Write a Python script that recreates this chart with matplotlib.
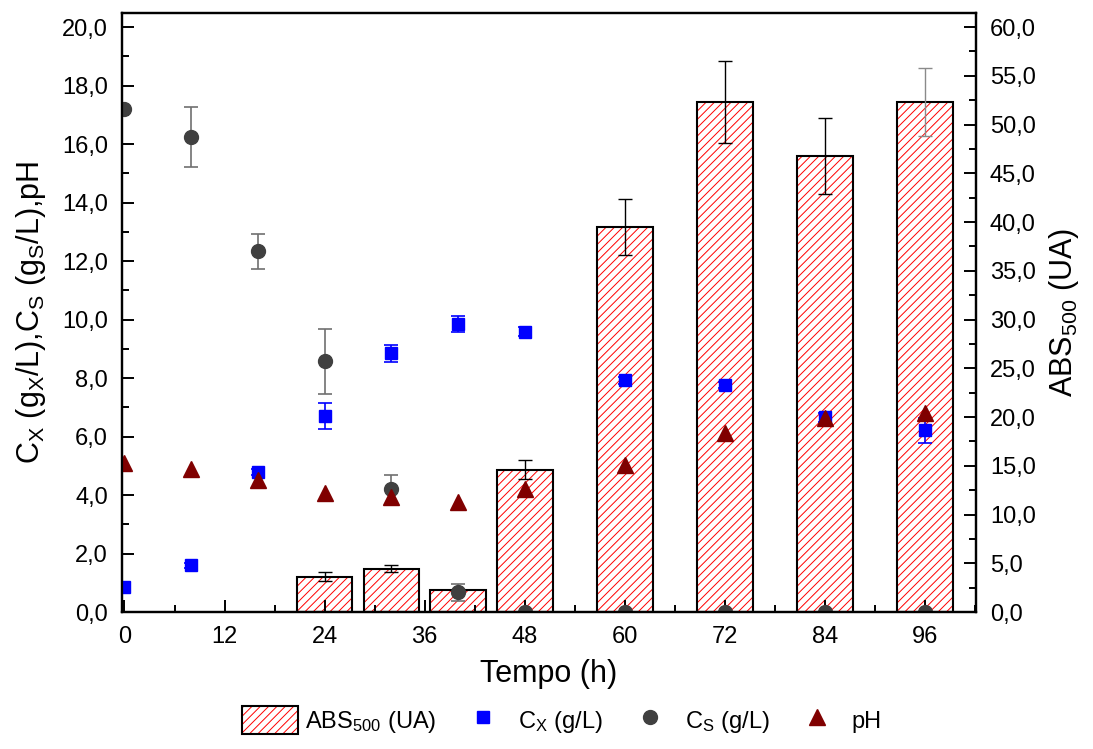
import matplotlib
matplotlib.use("Agg")
import matplotlib.pyplot as plt
from matplotlib.ticker import MultipleLocator, FuncFormatter
from matplotlib.patches import Patch
from matplotlib.lines import Line2D

plt.rcParams['font.family'] = ['Liberation Sans', 'DejaVu Sans']
plt.rcParams['mathtext.default'] = 'regular'
plt.rcParams['hatch.linewidth'] = 0.7

# time points (h)
tempo = [0, 8, 16, 24, 32, 40, 48, 60, 72, 84, 96]
cx = [0.84, 1.60, 4.78, 6.71, 8.84, 9.85, 9.58, 7.92, 7.75, 6.66, 6.22]
cx_err = [0.05, 0.08, 0.10, 0.44, 0.28, 0.28, 0.15, 0.12, 0.10, 0.15, 0.43]
cs = [17.19, 16.25, 12.34, 8.58, 4.20, 0.67, 0.0, 0.0, 0.0, 0.0, 0.0]
cs_err = [0.0, 1.03, 0.60, 1.11, 0.49, 0.28, 0.0, 0.0, 0.0, 0.0, 0.0]
ph = [5.08, 4.88, 4.51, 4.08, 3.94, 3.77, 4.22, 5.03, 6.13, 6.62, 6.79]
ph_err = [0.10, 0.15, 0.15, 0.15, 0.15, 0.15, 0.15, 0.15, 0.15, 0.15, 0.15]

# absorbance bars
tempo_abs = [24, 32, 40, 48, 60, 72, 84, 96]
abs500 = [3.63, 4.45, 2.26, 14.6, 39.5, 52.3, 46.8, 52.3]
abs_err = [0.5, 0.35, 0.0, 1.0, 2.9, 4.2, 3.9, 3.5]

xticks = [0, 12, 24, 36, 48, 60, 72, 84, 96]


def comma(v, pos):
    return f"{v:.1f}".replace('.', ',')


fig = plt.figure(figsize=(10.93, 7.49), dpi=100)
ax = fig.add_axes([0.1116, 0.1829, 0.7814, 0.7997])
ax2 = ax.twinx()

# bars on the right axis
ax2.bar(tempo_abs, abs500, width=6.67, color='white', edgecolor='red',
        hatch='////', linewidth=0, zorder=1)
ax2.bar(tempo_abs, abs500, width=6.67, fill=False, edgecolor='black',
        linewidth=1.5, zorder=2)
ax2.errorbar(tempo_abs[:-1], abs500[:-1], yerr=abs_err[:-1], fmt='none',
             ecolor='black', elinewidth=1.0, capsize=5, capthick=1.0, zorder=3)
ax2.errorbar(tempo_abs[-1:], abs500[-1:], yerr=abs_err[-1:], fmt='none',
             ecolor='#8a8a8a', elinewidth=1.0, capsize=5, capthick=1.0, zorder=3)

ax.set_zorder(ax2.get_zorder() + 1)
ax.patch.set_visible(False)

ax.errorbar(tempo, cs, yerr=cs_err, fmt='o', color='#404040', ecolor='#707070',
            ms=10, elinewidth=1.2, capsize=5, capthick=1.2)
ax.errorbar(tempo, cx, yerr=cx_err, fmt='s', color='#0000ff', ecolor='#0000ff',
            ms=8.5, elinewidth=1.2, capsize=5, capthick=1.2)
ax.errorbar(tempo, ph, yerr=ph_err, fmt='^', color='#800000', ecolor='#800000',
            ms=11, elinewidth=1.2, capsize=0)

ax.set_xlim(-0.3, 102.1)
ax.set_ylim(0, 20.48)
ax2.set_ylim(0, 61.44)

ax.set_xticks(xticks)
ax.xaxis.set_minor_locator(MultipleLocator(6))
ax.yaxis.set_major_locator(MultipleLocator(2))
ax.yaxis.set_minor_locator(MultipleLocator(1))
ax.yaxis.set_major_formatter(FuncFormatter(comma))
ax2.yaxis.set_major_locator(MultipleLocator(5))
ax2.yaxis.set_minor_locator(MultipleLocator(2.5))
ax2.yaxis.set_major_formatter(FuncFormatter(comma))

for a in (ax, ax2):
    a.tick_params(which='major', direction='in', length=8.5, width=1.4,
                  labelsize=17, pad=10)
    a.tick_params(which='minor', direction='in', length=5, width=1.4)
    for s in a.spines.values():
        s.set_linewidth(1.6)
ax.tick_params(top=False, right=False, which='both')
ax2.tick_params(top=False, which='both')

ax.set_xlabel('Tempo (h)', fontsize=22, labelpad=8)
ax.set_ylabel('C$_X$ (g$_X$/L),C$_S$ (g$_S$/L),pH', fontsize=22, labelpad=10)
ax2.set_ylabel('ABS$_{500}$ (UA)', fontsize=22, labelpad=8)

h_bar = (Patch(facecolor='white', edgecolor='red', hatch='////', linewidth=0),
         Patch(fill=False, edgecolor='black', linewidth=1.5))
h_cx = Line2D([], [], ls='none', marker='s', color='#0000ff', ms=8.5)
h_cs = Line2D([], [], ls='none', marker='o', color='#404040', ms=10)
h_ph = Line2D([], [], ls='none', marker='^', color='#800000', ms=11)
fig.legend([h_bar, h_cx, h_cs, h_ph],
           ['ABS$_{500}$ (UA)', 'C$_X$ (g/L)', 'C$_S$ (g/L)', 'pH'],
           loc='center', bbox_to_anchor=(0.514, 0.038), ncol=4, frameon=False,
           fontsize=17, handlelength=2.37, handleheight=1.4,
           handletextpad=0.3, columnspacing=0.8)

fig.savefig('out.png', dpi=100)
